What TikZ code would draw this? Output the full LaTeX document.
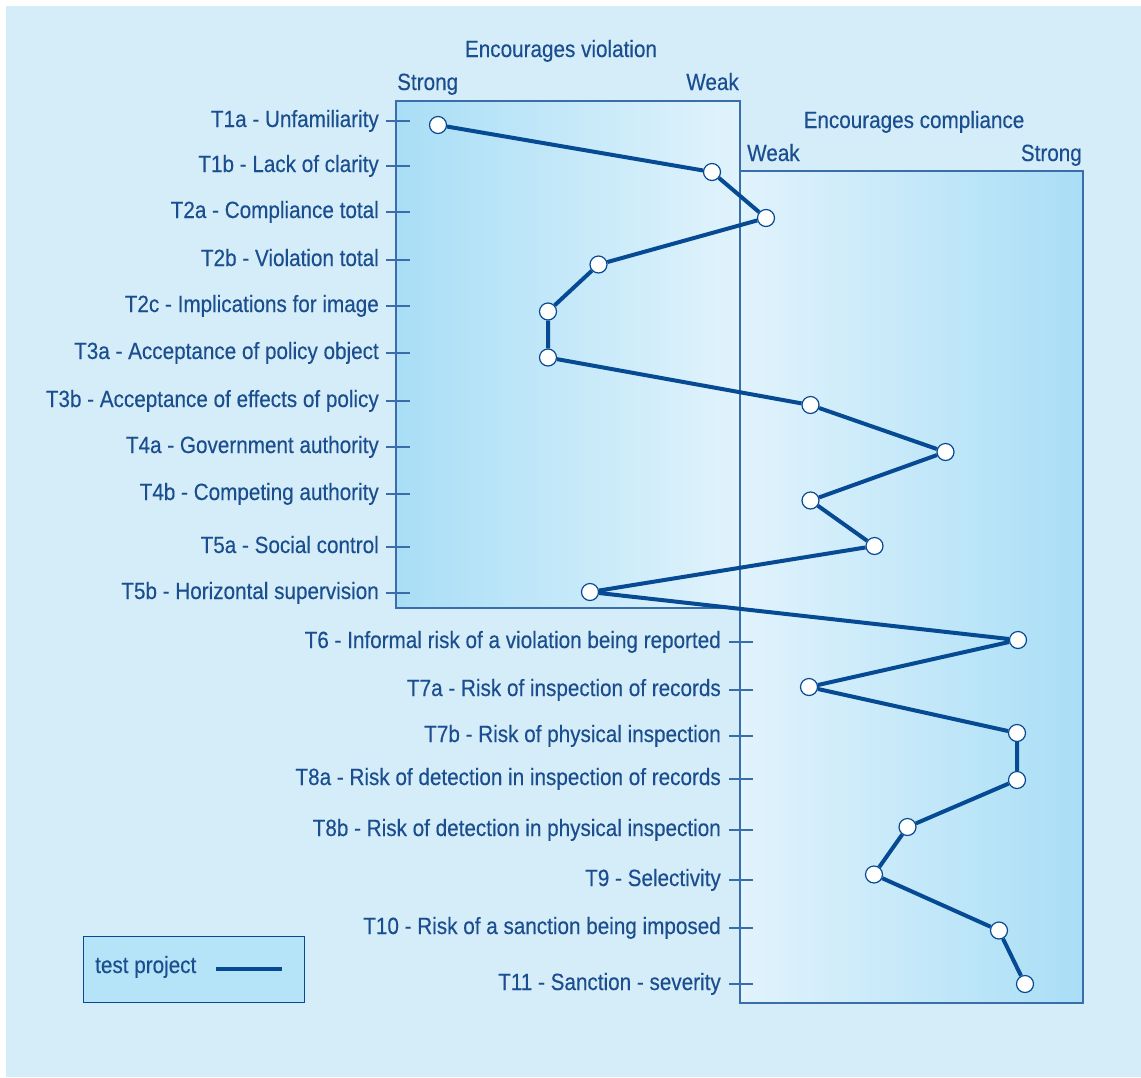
\documentclass[tikz,border=0pt]{standalone}
\usepackage{fontspec}
\setmainfont{Liberation Sans}[FakeStretch=0.88,FakeBold=0.3]
\definecolor{bg}{HTML}{D5ECF9}
\definecolor{boxdark}{HTML}{A9DEF6}
\definecolor{boxlight}{HTML}{E1F3FC}
\definecolor{ink}{HTML}{1A4E8F}
\definecolor{series}{HTML}{064A94}
\definecolor{frame}{HTML}{3A6EAA}
\definecolor{legendfill}{HTML}{B5E4F9}
\begin{document}
\begin{tikzpicture}[x=1pt,y=-1pt,
  lab/.style={text=ink,font=\fontsize{23.5}{27}\selectfont,inner sep=0pt},
  boxframe/.style={draw=frame,line width=1.4pt},
  tick/.style={draw=frame,line width=1.4pt},
  series/.style={draw=series,line width=4pt,line join=round},
  dot/.style={circle,draw=series,line width=1.2pt,fill=white,minimum size=17pt,inner sep=0pt}]
\useasboundingbox (0,0) rectangle (1141,1077);
\fill[white] (0,0) rectangle (1141,1077);
\fill[bg] (6,6) rectangle (1141,1077);

% violation panel and compliance panel
\shade[left color=boxdark,right color=boxlight] (396,101) rectangle (740,608);
\shade[left color=boxlight,right color=boxdark] (740,171) rectangle (1083,1003);
\draw[boxframe] (396,101) rectangle (740,608);
\draw[boxframe] (740,171) rectangle (1083,1003);

% headings
\node[lab,anchor=base] (hv) at (561,57) {Encourages violation};
\node[lab,anchor=base west] (hvs) at (397,90) {Strong};
\node[lab,anchor=base east] (hvw) at (739,90) {Weak};
\node[lab,anchor=base] (hc) at (914,128) {Encourages compliance};
\node[lab,anchor=base west] (hcw) at (747,161) {Weak};
\node[lab,anchor=base east] (hcs) at (1082,161) {Strong};

% factor labels with ticks, left scale
\foreach \n/\y/\t in {
  l1a/121/T1a - Unfamiliarity,
  l1b/166/T1b - Lack of clarity,
  l2a/212/T2a - Compliance total,
  l2b/260/T2b - Violation total,
  l2c/306/T2c - Implications for image,
  l3a/353/T3a - Acceptance of policy object,
  l3b/401/T3b - Acceptance of effects of policy,
  l4a/447/T4a - Government authority,
  l4b/494/T4b - Competing authority,
  l5a/547/T5a - Social control,
  l5b/593/T5b - Horizontal supervision}{
  \draw[tick] (386,\y) -- (410,\y);
  \node[lab,anchor=base east] (\n) at (379,\y+6) {\t};
}
% factor labels with ticks, right scale
\foreach \n/\y/\t in {
  l6/642/T6 - Informal risk of a violation being reported,
  l7a/690/T7a - Risk of inspection of records,
  l7b/736/T7b - Risk of physical inspection,
  l8a/779/T8a - Risk of detection in inspection of records,
  l8b/830/T8b - Risk of detection in physical inspection,
  l9/880/T9 - Selectivity,
  l10/928/T10 - Risk of a sanction being imposed,
  l11/984/T11 - Sanction - severity}{
  \draw[tick] (729,\y) -- (753,\y);
  \node[lab,anchor=base east] (\n) at (721,\y+6) {\t};
}

% data points
\node[dot] (p1a) at (438,125) {};
\node[dot] (p1b) at (712,172) {};
\node[dot] (p2a) at (766,218) {};
\node[dot] (p2b) at (598.5,264.5) {};
\node[dot] (p2c) at (548,311.5) {};
\node[dot] (p3a) at (548,357.5) {};
\node[dot] (p3b) at (810.5,405) {};
\node[dot] (p4a) at (945.5,452) {};
\node[dot] (p4b) at (810.5,500.5) {};
\node[dot] (p5a) at (874.5,546) {};
\node[dot] (p5b) at (590,592) {};
\node[dot] (p6) at (1018,640) {};
\node[dot] (p7a) at (809,687) {};
\node[dot] (p7b) at (1017,733) {};
\node[dot] (p8a) at (1017,780) {};
\node[dot] (p8b) at (907.5,827) {};
\node[dot] (p9) at (874,874.5) {};
\node[dot] (p10) at (999,930.5) {};
\node[dot] (p11) at (1025,984) {};

% profile line
\draw[series] (p1a) -- (p1b) -- (p2a) -- (p2b) -- (p2c) -- (p3a) -- (p3b)
  -- (p4a) -- (p4b) -- (p5a) -- (p5b) -- (p6) -- (p7a) -- (p7b) -- (p8a)
  -- (p8b) -- (p9) -- (p10) -- (p11);

% legend
\node[draw=series,line width=1.2pt,fill=legendfill,minimum width=221pt,minimum height=66pt,inner sep=0pt] (leg) at (194,969.5) {};
\node[lab,anchor=base west] (legtxt) at (95,973) {test project};
\coordinate (ls) at (216,968.5);
\coordinate (le) at (282,968.5);
\draw[series] (ls) -- (le);
\end{tikzpicture}
\end{document}
